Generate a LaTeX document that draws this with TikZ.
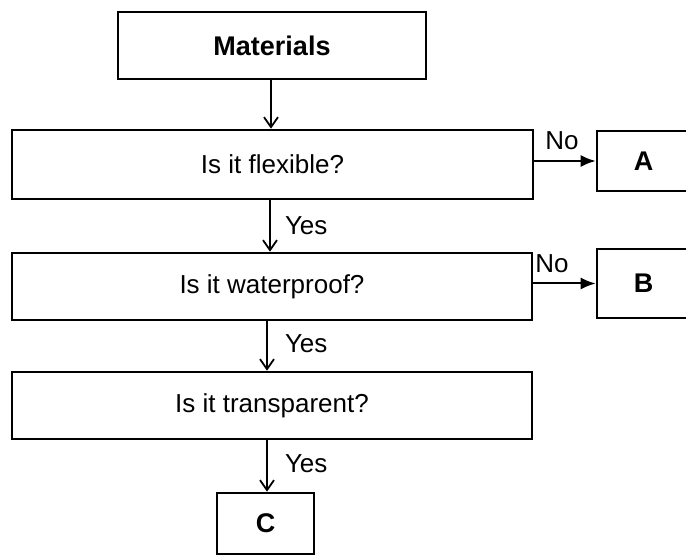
\documentclass[tikz,border=0pt]{standalone}
\usepackage{fontspec}
\setmainfont{Liberation Sans}
\usetikzlibrary{arrows.meta}
\begin{document}
\begin{tikzpicture}[x=1pt,y=-1pt,
  box/.style={draw, line width=2.6pt, inner sep=0pt, font=\fontsize{26}{30}\selectfont},
  boldbox/.style={box, font=\bfseries\fontsize{27}{30}\selectfont},
  lbl/.style={font=\fontsize{26}{30}\selectfont, inner sep=0pt},
  varr/.style={line width=2pt, -{Straight Barb[length=10pt,width=14pt,line width=1.8pt]}},
  harr/.style={line width=2pt, -{Latex[length=15pt,width=12pt]}}]
\useasboundingbox (0,0) rectangle (686,556);
\node[boldbox, minimum width=308pt, minimum height=67pt] (mat) at (272,45.5) {Materials};
\node[box, minimum width=521pt, minimum height=69pt] (flex) at (272.5,164.5) {Is it flexible?};
\node[boldbox, minimum width=93pt, minimum height=60pt] (A) at (643.5,161) {A};
\node[box, minimum width=520pt, minimum height=67pt] (water) at (272,286.5) {Is it waterproof?};
\node[boldbox, minimum width=93pt, minimum height=69pt] (B) at (643.5,283.5) {B};
\node[box, minimum width=520pt, minimum height=67pt] (trans) at (272,405.5) {Is it transparent?};
\node[boldbox, minimum width=97pt, minimum height=61pt] (C) at (265.5,523.5) {C};
\coordinate (v1) at (271,0);
\coordinate (v2) at (270,0);
\coordinate (v3) at (267,0);
\draw[varr] (mat.south -| v1) -- (flex.north -| v1);
\draw[varr] (flex.south -| v2) -- (water.north -| v2) node[lbl, pos=0.5, anchor=west, xshift=14pt] (y1) {Yes};
\draw[varr] (water.south -| v3) -- (trans.north -| v3) node[lbl, pos=0.45, anchor=west, xshift=17pt] (y2) {Yes};
\draw[varr] (trans.south -| v3) -- (C.north -| v3) node[lbl, pos=0.45, anchor=west, xshift=17pt] (y3) {Yes};
\draw[harr] (flex.east |- A.west) -- (A.west) node[lbl, pos=0.45, above=10pt] (n1) {No};
\draw[harr] (water.east |- B.west) -- (B.west) node[lbl, pos=0.3, above=10pt] (n2) {No};
\end{tikzpicture}
\end{document}
